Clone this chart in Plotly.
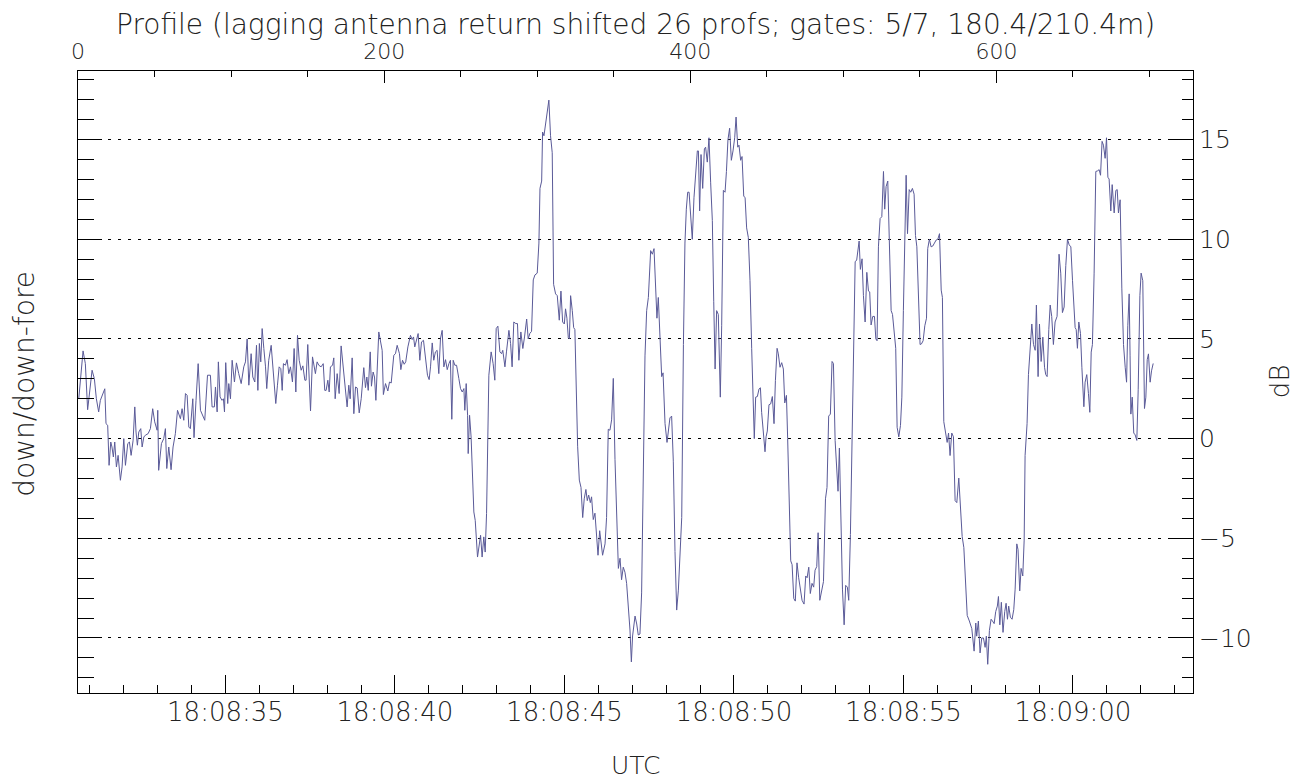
import plotly.graph_objects as go

# ---- data (profile index, dB) ----
profile = [
    0.5, 3.3, 4.8, 6.3, 9.2, 10.7, 12.0, 13.5, 14.6, 16.4, 17.5, 18.3, 19.4, 20.3, 21.4, 22.2, 23.1, 24.0,
    25.1, 26.2, 27.7, 28.8, 29.9, 31.0, 32.5, 33.6, 34.7, 36.0, 37.1, 37.9, 38.8, 39.7, 41.0, 41.9, 43.0,
    44.0, 45.8, 47.3, 48.8, 50.1, 51.7, 52.1, 52.7, 54.5, 56.0, 57.1, 58.0, 59.3, 60.8, 62.1, 63.6, 65.0,
    65.8, 66.9, 68.0, 69.1, 70.2, 71.3, 72.4, 73.4, 75.0, 75.8, 77.1, 78.5, 80.0, 81.5, 82.8, 84.6, 86.5,
    87.6, 89.1, 89.8, 90.9, 91.7, 92.8, 94.1, 95.0, 95.7, 96.5, 97.8,
    98.5, 99.6, 100.7, 102.2, 103.5, 105.0, 106.6, 108.3, 109.4, 110.5, 111.6, 113.1, 114.2, 115.5, 116.6,
    117.5, 118.5, 119.4, 120.3, 121.4, 122.5, 123.3, 124.6, 126.2, 127.3, 128.3, 129.2, 130.3, 131.4, 132.5,
    133.4, 134.2, 135.5, 136.6, 137.7, 138.8, 140.1, 141.2, 142.3, 143.4, 144.5, 145.8, 146.9, 148.2, 149.0,
    150.1, 150.8, 151.9, 153.2, 154.1, 155.1, 156.2, 157.3, 158.8, 160.2, 161.2, 162.1, 163.2, 164.1, 164.9,
    166.3, 167.1, 168.0, 169.3, 170.6, 171.9, 173.0, 174.1, 175.2, 175.8, 176.9, 177.8, 179.1, 180.2, 181.3,
    182.4, 183.7, 185.0, 186.7, 187.8, 188.7, 189.6, 190.9, 191.7, 192.8, 193.7, 194.6, 195.5,
    196.5, 198.7, 199.5, 200.9, 202.4, 203.5, 204.6, 206.3, 207.4, 208.5, 210.0, 210.9, 212.0, 213.1, 214.1,
    215.5, 217.2, 218.3, 219.2, 220.0, 221.1, 222.2, 223.3, 224.4, 225.7, 227.0, 228.3, 229.4, 230.3, 231.4,
    232.4, 233.5, 234.6, 235.7, 236.8, 237.9, 239.0, 240.1, 241.2, 242.3, 243.3, 244.2, 245.1, 246.2, 247.3,
    248.8, 249.9, 251.0, 252.1, 252.7, 253.6, 254.5, 254.9, 255.8, 256.8, 258.6, 259.5, 261.0, 262.1, 263.0,
    264.0, 265.1, 266.0, 266.9, 268.4, 269.9, 271.2, 272.3, 273.2, 274.3, 275.6, 276.7, 277.5, 278.9, 279.9,
    281.5, 282.6, 283.6, 284.7, 286.0, 287.1, 288.0, 289.3, 290.6, 291.7,
    292.0, 293.1, 294.1, 295.2, 296.3, 297.4, 298.5, 300.0, 301.1, 301.8, 302.9, 303.5, 304.4, 305.5, 306.3,
    307.6, 308.7, 309.8, 310.7, 312.0, 313.1, 314.4, 315.5, 316.6, 317.7, 318.5, 319.4, 320.3, 321.0, 321.8,
    322.9, 323.8, 324.6, 326.4, 327.5, 328.6, 329.7, 330.7, 331.8, 332.7, 333.6, 334.7, 335.5, 336.6, 337.7,
    338.8, 339.7, 340.8, 341.9, 342.7, 344.3, 345.3, 346.4, 347.5, 348.6, 349.7, 350.8, 351.9, 353.0, 354.1,
    355.1, 356.2, 357.3, 358.4, 359.5, 360.6, 361.5, 362.3,
    363.9, 365.0, 366.0, 367.1, 368.2, 369.3, 370.4, 371.5, 372.6, 374.1, 375.2, 376.3, 377.4, 378.2, 379.1,
    380.2, 381.3, 382.2, 383.5, 384.8, 385.6, 386.7, 387.8, 388.9, 390.0, 391.1, 392.2, 393.3, 394.4, 395.5,
    396.5, 397.4, 398.3, 399.2, 400.2, 401.3, 402.4, 403.5, 404.6, 405.3, 406.1, 407.0, 408.1, 409.2, 410.0,
    411.1, 412.2, 413.3, 414.4, 415.3, 416.2, 417.2, 418.3, 419.6, 420.5, 421.6, 422.7, 423.6, 424.6, 425.7,
    426.8, 427.9, 429.0, 429.9, 431.0, 431.8, 432.9, 433.8, 434.9,
    435.8, 436.8, 437.9, 439.0, 440.1, 441.0, 441.8, 442.7, 443.8, 444.9, 445.8, 446.6, 447.7, 448.8, 449.5,
    450.3, 451.4, 452.5, 453.6, 454.7, 455.6, 456.7, 457.5, 458.6, 459.7, 460.8, 461.7, 462.8, 463.6, 464.5,
    465.6, 466.5, 467.6, 468.6, 469.7, 470.8, 471.9, 473.0, 474.3, 475.4, 476.3, 477.4, 478.4, 479.5, 480.6,
    481.5, 482.6, 483.5, 484.6, 485.6, 487.0, 488.3, 489.3, 490.4, 491.5, 492.6, 493.5, 494.6, 495.7, 496.5,
    497.4, 498.3, 499.4, 500.5, 501.5, 502.6, 503.5, 504.6, 505.9, 506.8,
    507.7, 508.7, 510.3, 511.1, 512.2, 513.1, 514.2, 515.3, 516.4, 517.2, 518.1, 519.2, 520.3, 521.2, 522.0,
    522.9, 524.0, 525.1, 526.2, 527.0, 527.9, 529.0, 530.1, 531.2, 532.1, 533.1, 534.2, 535.1, 536.2, 537.3,
    538.2, 539.2, 540.3, 541.0, 541.9, 543.0, 544.0, 545.1, 546.2, 547.1, 548.0, 549.0, 550.1, 551.0, 552.1,
    553.2, 554.3, 555.1, 556.2, 557.3, 558.4, 559.5, 560.6, 561.7, 562.8, 563.9, 564.7, 565.6, 566.7, 567.8,
    568.7, 569.7, 570.8, 571.9, 573.0, 574.1, 575.4, 576.5, 577.6, 578.7, 579.8, 580.9,
    582.3, 583.9, 585.4, 586.5, 587.1, 588.2, 589.3, 590.4, 591.5, 592.6, 593.4, 594.3, 595.4, 596.5, 597.4,
    598.5, 599.5, 600.6, 601.3, 602.2, 603.2, 604.3, 605.4, 606.3, 607.2, 608.0, 609.1, 610.2, 611.3, 612.2,
    613.3, 614.1, 615.2, 616.1, 617.2, 618.1, 618.7, 620.0, 620.9, 622.0, 623.1, 624.2, 625.3, 626.1, 627.2,
    628.1, 629.2, 630.3, 631.4, 632.2, 633.1, 634.2, 635.1, 636.1, 637.2, 638.3, 639.6, 640.9, 642.0, 643.1,
    644.2, 645.3, 646.4, 647.5, 648.6, 649.7, 650.7,
    651.4, 652.1, 652.9, 653.8, 654.9, 655.8, 657.1, 657.9, 659.0, 660.1, 661.0, 661.9, 662.7, 663.8, 664.9,
    666.0, 667.1, 668.0, 669.0, 669.9, 671.0, 671.9, 672.8, 673.6, 674.7, 675.6, 676.9, 678.0, 678.9, 679.7,
    680.8, 681.9, 683.0, 684.1, 685.0, 685.8, 686.7, 687.3, 687.8, 688.7, 689.7, 690.6, 691.7, 692.6, 693.7,
    694.5, 695.6, 696.7, 697.6, 698.5, 699.3, 700.4, 701.3, 702.4,
]

db = [
    2.0, 4.4, 3.76, 1.45, 3.43, 3.0, 2.0, 1.34, 1.92, 2.26, 2.5, 0.75, 0.67, -1.34, -0.17, -0.42, -0.92, -0.17,
    -1.42, -0.84, -2.09, -1.42, 0.0, -1.34, -0.25, -0.17, -0.84, -0.08, 1.59, 0.33, -0.33, 0.33, 0.5, -0.42, 0.08,
    0.17, 0.25, 0.5, 1.5, 0.84, 0.42, 1.42, -1.59, -0.25, 0.0, 0.5, -1.5, -0.42, -1.56, -0.42, 0.25, 1.42,
    1.25, 1.0, 1.5, 0.92, 2.26, 2.17, 0.58, 0.5, 2.0, 0.05, 1.92, 3.76, 1.42, 1.17, 0.92, 3.18, 3.18,
    1.59, 1.59, 2.59, 1.34, 3.85, 2.09, 1.92, 2.0, 1.34, 3.81, 1.76,
    2.76, 2.0, 3.93, 2.84, 3.8, 3.26, 2.76, 3.6, 3.85, 5.0, 2.68, 4.26, 3.09, 2.84, 4.68,
    2.42, 4.77, 3.85, 5.52, 4.52, 3.6, 2.51, 3.93, 4.68, 3.6, 2.59, 1.76, 2.68, 3.6, 3.51,
    2.42, 3.76, 3.68, 3.96, 3.26, 3.6, 2.84, 4.52, 2.34, 5.18, 3.93, 3.43, 3.65, 2.93, 2.93,
    4.72, 3.09, 1.39, 4.1, 3.6, 3.26, 3.85, 3.68, 3.6, 3.76, 2.42, 2.42, 2.93, 2.34, 3.6,
    3.68, 4.05, 2.0, 3.26, 2.26, 4.65, 3.68, 2.93, 1.92, 1.59, 2.68, 2.0, 4.05, 1.25, 2.59,
    2.54, 1.29, 2.0, 3.56, 2.56, 3.09, 2.42, 4.35, 2.63, 3.34, 3.09, 1.92, 3.93,
    5.35, 4.43, 2.21, 2.76, 2.39, 2.84, 2.79, 4.18, 4.26, 4.68, 4.26, 3.46, 3.93, 3.73, 3.85,
    4.6, 5.18, 4.97, 5.1, 4.6, 4.93, 5.27, 3.93, 4.85, 4.93, 3.93, 3.18, 2.96, 3.6, 4.8,
    3.93, 4.35, 4.43, 3.26, 5.02, 5.43, 3.6, 3.96, 3.46, 3.76, 3.93, 0.97, 3.93, 3.68, 3.68,
    3.01, 2.51, 2.34, 2.51, 1.42, 2.76, 1.17, -0.75, 1.17, 0.08, -3.68, -4.1, -5.94, -5.43, -4.85,
    -5.94, -4.93, -5.69, -3.76, 3.18, 4.35, 3.76, 2.93, 5.52, 5.64, 4.35, 4.26, 4.43, 3.6, 4.35,
    5.43, 4.77, 3.6, 5.85, 5.77, 5.77, 3.93, 5.35, 4.52, 5.1,
    5.28, 6.0, 5.0, 5.28, 5.38, 7.96, 8.21, 8.3, 9.81, 12.55, 12.92, 15.38, 15.19, 15.85, 16.04,
    16.98, 15.19, 14.34, 7.74, 7.26, 7.17, 5.94, 7.4, 5.85, 5.75, 6.51, 6.04, 5.06, 5.0, 7.17,
    6.42, 5.57, 5.47, -0.38, -2.08, -2.45, -3.96, -3.02, -2.55, -3.11, -2.83, -3.21, -2.92, -4.06, -3.74,
    -4.81, -5.85, -4.62, -5.19, -5.85, -5.28, -3.96, 0.47, 0.42, 0.94, 3.02, -1.04, -3.58, -6.51, -6.0,
    -7.08, -6.45, -6.7, -7.26, -8.49, -9.6, -11.2, -9.9,
    -8.9, -9.3, -9.85, -9.8, -7.74, -1.13, 4.15, 6.42, 7.08, 9.43, 9.25, 9.53, 7.83, 6.04, 7.08,
    5.28, 3.11, 3.3, 0.75, -0.19, 0.47, 1.04, 1.13, -1.13, -5.66, -8.6, -7.6, -5.66, -3.96, 4.72,
    9.81, 11.51, 12.36, 12.36, 10.94, 10.0, 12.08, 13.3, 14.43, 14.43, 11.42, 14.25, 12.55, 14.53, 14.62,
    13.87, 15.09, 12.83, 10.94, 6.89, 3.49, 6.42, 6.23, 2.08, 5.66, 12.45, 12.36, 13.4, 15.0, 15.57,
    13.96, 14.43, 15.09, 16.13, 14.62, 14.72, 13.96, 14.15, 12.17,
    12.08, 10.57, 10.09, 7.92, 4.53, 1.7, 0.0, 2.08, 2.11, 2.49, 2.55, 1.32, 0.28, -0.66, 0.09,
    0.38, 1.7, 1.74, 2.11, 0.75, 2.92, 4.53, 4.25, 3.58, 3.81, 3.49, 1.79, 2.17, 0.0, -3.02,
    -6.13, -6.32, -8.02, -8.15, -6.23, -6.98, -7.45, -8.11, -8.3, -6.89, -6.98, -6.45, -7.77, -7.26, -7.45,
    -6.6, -6.42, -4.72, -8.11, -7.74, -7.17, -3.02, -2.45, 1.13, 1.23, 3.87, 3.77, -0.09, -1.32, -2.64,
    -0.47, -4.53, -7.55, -9.34, -7.36, -7.45, -8.11, -4.81, 0.75, 4.53,
    8.87, 8.96, 9.91, 8.49, 9.02, 7.17, 5.85, 8.34, 7.4, 7.36, 5.7, 6.13, 6.13, 5.0, 4.91,
    9.62, 11.04, 11.13, 13.4, 11.51, 12.64, 12.92, 10.0, 6.42, 6.23, 5.28, 4.53, 0.57, 0.09, 0.66,
    2.08, 6.42, 10.38, 13.21, 10.28, 12.49, 12.36, 12.55, 12.26, 10.19, 9.62, 7.08, 4.72, 4.75, 4.91,
    5.66, 6.04, 9.53, 10.0, 9.62, 9.66, 9.81, 9.96, 10.0, 10.28, 7.45, 7.08, 0.85, 0.38, -0.19,
    0.28, -0.85, 0.28, 0.09, -3.11, -3.21, -1.98, -3.68, -4.91, -5.47, -7.36, -8.87,
    -9.15, -9.53, -10.66, -9.25, -9.91, -9.15, -10.75, -10.0, -10.0, -10.47, -9.91, -11.32, -9.62, -9.06, -9.15,
    -9.28, -8.68, -8.4, -7.92, -9.34, -8.21, -9.72, -8.68, -8.26, -9.06, -8.4, -8.96, -9.06, -8.58, -7.55,
    -5.28, -5.57, -7.64, -6.51, -6.89, -5.09, -0.85, 0.75, 3.21, 4.53, 5.75, 4.72, 4.43, 6.7, 3.11,
    5.75, 3.87, 5.09, 3.58, 3.21, 3.11, 5.47, 6.7, 6.13, 4.72, 5.85, 6.13, 9.25, 8.3, 6.32,
    6.6, 8.68, 10.0, 9.72, 9.62, 7.92, 6.23,
    5.57, 5.47, 4.53, 5.85, 5.28, 3.58, 1.6, 2.83, 3.21, 2.26, 1.32, 4.34, 4.72, 8.3, 13.4,
    13.43, 13.49, 13.21, 14.91, 14.72, 14.06, 15.09, 13.11, 13.02, 11.42, 12.74, 11.32, 12.45, 12.49, 11.32,
    11.98, 7.55, 4.72, 3.58, 2.83, 5.66, 7.26, 4.15, 1.23, 2.08, 0.28, 0.19, -0.09, 2.45, 7.17,
    8.3, 7.92, 1.51, 2.08, 3.96, 4.25, 2.83, 3.4, 3.77,
]

profile_range = [0, 728.4]
db_range = [-12.76, 18.44]
time_range = ["2006-01-01 18:08:30.650", "2006-01-01 18:09:03.540"]
time_tick0 = "2006-01-01 18:08:35"

title_text = "Profile (lagging antenna return shifted 26 profs; gates: 5/7, 180.4/210.4m)"
left_label = "down/down-fore"
right_label = "dB"
bottom_label = "UTC"

FONT = "DejaVu Sans"
W = 200
INK = "#222222"

fig = go.Figure()
fig.add_trace(go.Scatter(
    x=profile, y=db, mode="lines", xaxis="x2", yaxis="y",
    line=dict(color="#5a5a98", width=1), showlegend=False, hoverinfo="skip",
))
# invisible helpers so that the time axis and the left dB axis are drawn
fig.add_trace(go.Scatter(
    x=time_range, y=[db_range[0], db_range[0]], mode="lines", xaxis="x", yaxis="y",
    line=dict(color="rgba(0,0,0,0)", width=0), showlegend=False, hoverinfo="skip",
))
fig.add_trace(go.Scatter(
    x=time_range, y=[db_range[0], db_range[0]], mode="lines", xaxis="x", yaxis="y2",
    line=dict(color="rgba(0,0,0,0)", width=0), showlegend=False, hoverinfo="skip",
))

fig.update_layout(
    width=1308, height=778,
    margin=dict(l=70, r=123, t=63, b=93),
    paper_bgcolor="white", plot_bgcolor="white",
    font=dict(family=FONT, color=INK, weight=W),
    xaxis=dict(
        type="date", range=time_range, side="bottom", anchor="y",
        tickformat="%H:%M:%S", tick0=time_tick0, dtick=5000,
        ticks="inside", ticklen=18, tickcolor="black", tickwidth=1,
        minor=dict(dtick=1000, tick0=time_tick0, ticks="inside", ticklen=8, tickcolor="black", showgrid=False),
        showline=True, linecolor="black", linewidth=1, mirror=False,
        showgrid=False, zeroline=False, ticklabelstandoff=-4,
        tickfont=dict(size=26, family=FONT, color=INK, weight=W),
    ),
    xaxis2=dict(
        range=profile_range, overlaying="x", side="top", anchor="y",
        tick0=0, dtick=200,
        ticks="inside", ticklen=12, tickcolor="black", tickwidth=1,
        minor=dict(dtick=50, ticks="inside", ticklen=6, tickcolor="black", showgrid=False),
        showline=True, linecolor="black", linewidth=1,
        showgrid=False, zeroline=False, ticklabelstandoff=2,
        tickfont=dict(size=22, family=FONT, color=INK, weight=W),
    ),
    yaxis=dict(
        range=db_range, side="right", anchor="x",
        tick0=0, dtick=5,
        ticks="inside", ticklen=24, tickcolor="black", tickwidth=1,
        minor=dict(dtick=1, ticks="inside", ticklen=11, tickcolor="black", showgrid=False),
        showline=True, linecolor="black", linewidth=1,
        showgrid=True, gridcolor="black", gridwidth=1, griddash="3px,7px",
        zeroline=False,
        tickfont=dict(size=25, family=FONT, color=INK, weight=W),
    ),
    yaxis2=dict(
        range=db_range, overlaying="y", side="left", anchor="x",
        tick0=0, dtick=5, showticklabels=False,
        ticks="inside", ticklen=24, tickcolor="black", tickwidth=1,
        minor=dict(dtick=1, ticks="inside", ticklen=16, tickcolor="black", showgrid=False),
        showline=True, linecolor="black", linewidth=1,
        showgrid=False, zeroline=False,
    ),
    annotations=[
        dict(text=title_text, xref="paper", yref="paper", x=0.5, y=1.074,
             xanchor="center", yanchor="middle", showarrow=False,
             font=dict(size=28, family=FONT, color=INK, weight=W)),
        dict(text=bottom_label, xref="paper", yref="paper", x=0.5, y=-0.116,
             xanchor="center", yanchor="middle", showarrow=False,
             font=dict(size=25, family=FONT, color=INK, weight=W)),
        dict(text=right_label, xref="paper", yref="paper", x=1.0787, y=0.501,
             xanchor="center", yanchor="middle", showarrow=False, textangle=-90,
             font=dict(size=26, family=FONT, color=INK, weight=W)),
        dict(text=left_label, xref="paper", yref="paper", x=-0.048, y=0.498,
             xanchor="center", yanchor="middle", showarrow=False, textangle=-90,
             font=dict(size=28, family=FONT, color=INK, weight=W)),
    ],
)

fig.write_html("out.html")
